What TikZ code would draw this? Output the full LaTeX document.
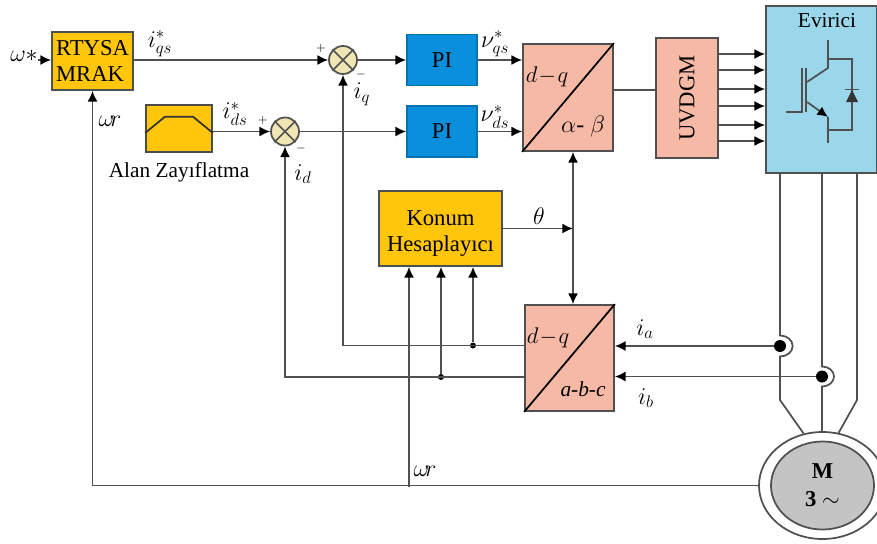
\documentclass[tikz,border=0pt]{standalone}
\usepackage{fix-cm}
\usepackage{amsmath}
\usepackage{fontspec}
\setmainfont{Liberation Serif}
\usepackage{tikz}
\usetikzlibrary{
  arrows.meta,
  calc,
  shapes.geometric
}
\definecolor{ylw}{HTML}{FFC60B}
\definecolor{slm}{HTML}{F5B9A6}
\definecolor{blu}{HTML}{0A8FDC}
\definecolor{cyn}{HTML}{9AD7EA}
\definecolor{crm}{HTML}{EFE6B4}
\definecolor{gry}{HTML}{C4C4C4}
\definecolor{lin}{HTML}{505050}

\begin{document}
\begin{tikzpicture}[
    x=0.75pt, y=-0.75pt,
    sz/.style 2 args={minimum width=#1*0.75pt, minimum height=#2*0.75pt},
    bx/.style={draw=lin, line width=1.3pt, inner sep=0pt, font=\fontsize{17}{19.5}\selectfont},
    yl/.style={bx, fill=ylw},
    sl/.style={bx, fill=slm},
    bl/.style={bx, fill=blu, draw=blu!80!black},
    sm/.style={circle, draw=lin, line width=1.3pt, fill=crm, inner sep=0pt, minimum size=21pt},
    ln/.style={draw=lin, line width=1.3pt},
    ar/.style={ln, -{Latex[length=8pt,width=7.5pt,color=black]}},
    br/.style={ln, {Latex[length=8pt,width=7.5pt,color=black]}-{Latex[length=8pt,width=7.5pt,color=black]}},
    dt/.style={circle, fill=black, inner sep=0pt, minimum size=#1},
    lb/.style={inner sep=0pt, font=\fontsize{18}{20}\selectfont},
    tx/.style={inner sep=0pt, font=\fontsize{16}{19.5}\selectfont, align=center}
  ]
    \clip (0,0) rectangle (877,543);
    % ---- blocks ----
    \node[yl, sz={81}{58}, align=left] (Rtysa) at (92.5,61) {RTYSA\\MRAK};
    \node[yl, sz={66}{47}, draw=black!70] (Field) at (179,128.5) {};
    \node[sm] (Sum1) at (343,60) {};
    \node[sm] (Sum2) at (285,131.5) {};
    \node[bl, sz={70}{51}] (PI1) at (442,60) {PI};
    \node[bl, sz={70}{51}] (PI2) at (442,131.5) {PI};
    \node[sl, sz={90}{107}] (Dq1) at (568,97.5) {};
    \node[sl, sz={62}{120}] (Uvdgm) at (687,98) {\rotatebox{90}{UVDGM}};
    \node[bx, fill=cyn, sz={111}{167}] (Inv) at (821.5,89.5) {};
    \node[yl, sz={123}{75}, align=center] (Konum) at (440.5,228.5) {\rule{0pt}{18pt}Konum\\Hesaplayıcı};
    \node[sl, sz={89}{106}] (Dq2) at (569.5,358) {};
    \node[ellipse, draw=lin, line width=1.3pt, fill=white, inner sep=0pt, sz={127}{107}] (Motor) at (822.5,485.5) {};
    \node[ellipse, draw=lin, line width=1.3pt, fill=gry, inner sep=0pt, sz={103}{88},
      font=\fontsize{17}{21}\selectfont\bfseries, align=center] (Rotor) at (822.5,485.5) {M\\3 {\mdseries $\sim$}};
    % ---- junctions ----
    \coordinate (wst) at (38,60);
    \coordinate (tht) at (573,228.5);
    \coordinate (qdot) at (473,345.5);
    \coordinate (ddot) at (441,377);
    \coordinate (wdot) at (409,487);
    \coordinate (adot) at (780,346);
    \coordinate (bdot) at (822,376.5);
    \coordinate (pa) at (780,400);
    \coordinate (pc) at (857,400);
    \node[dt=4.5pt] (qd) at (qdot) {};
    \node[dt=4.5pt] (dd) at (ddot) {};
    \node[dt=9pt] (ad) at (adot) {};
    \node[dt=9pt] (bd) at (bdot) {};
    % ---- connectors ----
    \draw[ar] (wst) -- (Rtysa.west |- wst);
    \draw[ar] (Rtysa.east |- Sum1) -- (Sum1);
    \draw[ar] (Field.east |- Sum2) -- (Sum2);
    \draw[ar] (Sum1) -- (PI1);
    \draw[ar] (Sum2) -- (PI2);
    \draw[ar] (PI1) -- (Dq1.west |- PI1);
    \draw[ar] (PI2) -- (Dq1.west |- PI2);
    \draw[ln] (Dq1.east |- 0,90) -- (Uvdgm.west |- 0,90);
    \foreach \y in {54,70,89,106,125,141} \draw[ar] (Uvdgm.east |- 0,\y) -- (Inv.west |- 0,\y);
    \draw[ar] (Konum.east |- tht) -- (tht);
    \draw[br] (Dq1.south -| tht) -- (Dq2.north -| tht);
    \draw[ar] (Dq2.west |- qdot) -- (Sum1 |- qdot) -- (Sum1);
    \draw[ar] (Dq2.west |- ddot) -- (Sum2 |- ddot) -- (Sum2);
    \draw[ar] (qd) -- (Konum.south -| qdot);
    \draw[ar] (dd) -- (Konum.south -| ddot);
    \draw[ar] (wdot) -- (Konum.south -| wdot);
    \draw[ar] (Motor.west) -- (Rtysa.south |- Motor.west) -- (Rtysa.south);
    \draw[ar] (ad) -- (Dq2.east |- adot);
    \draw[ar] (bd) -- (Dq2.east |- bdot);
    % ---- motor phases, with a hop at each tap ----
    \draw[ln] (Inv.south -| adot) -- ([yshift=7.9pt]adot) arc[start angle=90, end angle=-90, x radius=9.5pt, y radius=7.9pt] -- (pa) -- (Motor.110);
    \draw[ln] (Inv.south -| bdot) -- ([yshift=7.5pt]bdot) arc[start angle=90, end angle=-90, x radius=9pt, y radius=7.5pt] -- (Motor.north -| bdot);
    \draw[ln] (Inv.south -| pc) -- (pc) -- (Motor.73);
    % ---- block details ----
    \draw[ln, draw=black] (Dq1.south west) -- (Dq1.north east);
    \draw[ln, draw=black] (Dq2.south west) -- (Dq2.north east);
    \foreach \s in {Sum1,Sum2} {
      \draw[ln] (\s.north west) -- (\s.south east);
      \draw[ln] (\s.south west) -- (\s.north east);
    }
    \draw[ln, draw=black!80] (Field.west |- 0,133) -- (165,116.7) -- (193,116.7) -- (Field.east |- 0,133);
    % ---- switch symbol ----
    \draw[ln] (828,40) -- (828,68) -- (807,82);
    \draw[ln] (786,112) -- (802,112) -- (802,68);
    \draw[ln] (806,68) -- (806,112);
    \draw[ln, -{Latex[length=8pt,width=7.5pt,color=black]}] (807,102) -- (828,117);
    \draw[ln] (828,117) -- (828,143);
    \draw[ln] (828,59) -- (852,59) -- (852,130) -- (828,130);
    \fill[black!80] (852,90) -- (858,102) -- (846,102) -- cycle;
    \draw[ln] (845,89.5) -- (859,89.5);
    % ---- labels ----
    \node[tx] (lEv) at (827,21) {Evirici};
    \node[tx] (lAlan) at (179,172) {Alan Zayıflatma};
    \node[lb] (lw) at (24,56) {$\omega{*}$};
    \node[lb] (lwr) at (110,121) {$\omega\!r$};
    \node[lb] (lwr2) at (425,471) {$\omega\!r$};
    \node[lb] (liqs) at (160,44) {$i^*_{qs}$};
    \node[lb] (lids) at (235,114) {$i^*_{ds}$};
    \node[lb] (lvqs) at (495,44) {$\nu^*_{qs}$};
    \node[lb] (lvds) at (495,117) {$\nu^*_{ds}$};
    \node[lb] (liq) at (362,94) {$i_q$};
    \node[lb] (lid) at (303,174) {$i_d$};
    \node[lb] (lia) at (645,329) {$i_a$};
    \node[lb] (lib) at (646,398) {$i_b$};
    \node[lb] (lth) at (539,216) {$\theta$};
    \node[lb, font=\small] (lp1) at (321,48) {$+$};
    \node[lb, font=\small] (lp2) at (263,120) {$+$};
    \node[lb, font=\small] (lm1) at (361,74) {$-$};
    \node[lb, font=\small] (lm2) at (301,148) {$-$};
    \node[lb, font=\fontsize{17}{20}\selectfont] (ldq1) at (547,77) {$d\!-\!q$};
    \node[lb] (lab) at (583,126) {$\alpha$- $\beta$};
    \node[lb, font=\fontsize{17}{20}\selectfont] (ldq2) at (548,338) {$d\!-\!q$};
    \node[tx] (labc) at (583,389) {\itshape a-b-c};
  \end{tikzpicture}
\end{document}
